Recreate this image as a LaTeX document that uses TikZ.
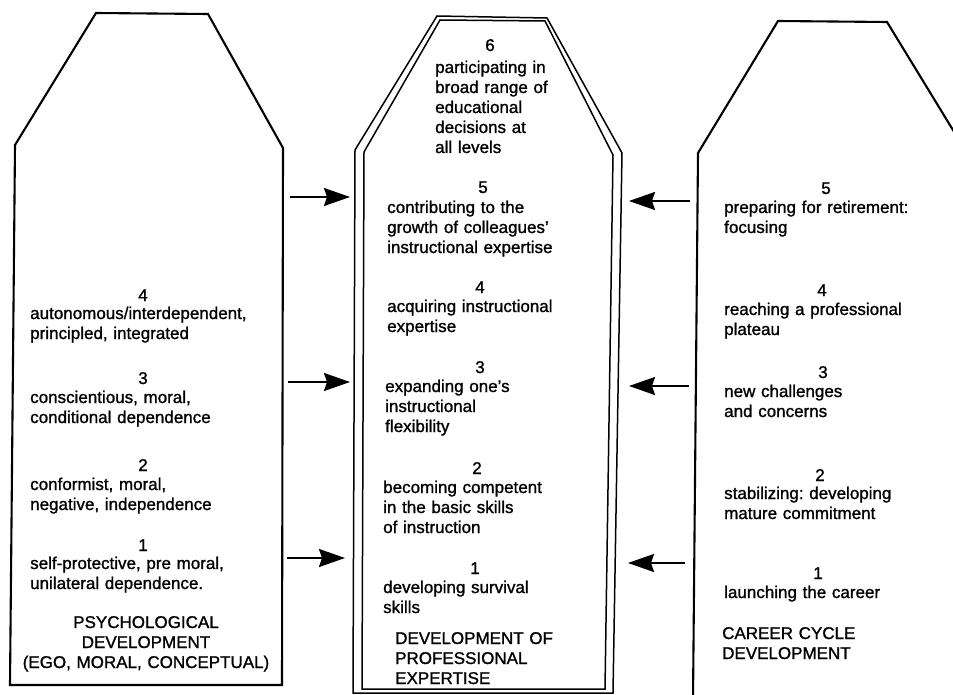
\documentclass[tikz,border=0pt]{standalone}
\usepackage{fontspec}
\setmainfont{Liberation Sans}[FakeBold=1.2]
\usetikzlibrary{arrows.meta}
\begin{document}
\frenchspacing
\begin{tikzpicture}[x=1pt,y=-1pt,
  outline/.style={line width=2.1pt, line join=miter},
  dbl/.style={line width=1.5pt, line join=miter},
  num/.style={anchor=base, inner sep=0pt, font=\fontsize{17}{20}\selectfont},
  txt/.style={anchor=base west, inner sep=0pt, align=left, text width=250pt, font=\fontsize{17}{20}\selectfont},
  ttl/.style={anchor=base, inner sep=0pt, align=center, text width=270pt, font=\fontsize{17}{20}\selectfont},
  link/.style={line width=2pt, -{Stealth[length=26pt,width=18pt,inset=3pt]}}
]
\useasboundingbox (0,0) rectangle (953,695);

% ---------- shapes ----------
\draw[outline] (10,685) -- (15,145) -- (96,13) -- (208,14) -- (283,148) -- (282,685) -- cycle;
\draw[dbl] (353,693) -- (355,150) -- (437,16) -- (547,18) -- (622,153) -- (613,693) -- cycle;
\draw[dbl] (362,689) -- (364,152) -- (440,20) -- (545,21) -- (613,155) -- (605,689) -- cycle;
\begin{scope}
  \clip (0,0) rectangle (953,695);
  \draw[outline] (693,700) -- (698,153) -- (778,21) -- (887,22) -- (967,153) -- (967,700);
\end{scope}

% ---------- left column ----------
\node[num] (l4n) at (143,301) {4};
\node[txt] (l4t) at (30,319) {autonomous/interdependent,\\principled, integrated};
\node[num] (l3n) at (143,384) {3};
\node[txt] (l3t) at (30,403) {conscientious, moral,\\conditional dependence};
\node[num] (l2n) at (143,471) {2};
\node[txt] (l2t) at (30,490) {conformist, moral,\\negative, independence};
\node[num] (l1n) at (143,551) {1};
\node[txt] (l1t) at (30,569) {self-protective, pre moral,\\unilateral dependence.};
\node[ttl] (lttl) at (146,628) {PSYCHOLOGICAL\\DEVELOPMENT\\(EGO, MORAL, CONCEPTUAL)};

% ---------- middle column ----------
\node[num] (m6n) at (490,51) {6};
\node[txt] (m6t) at (435,73) {participating in\\broad range of\\educational\\decisions at\\all levels};
\node[num] (m5n) at (483,193) {5};
\node[txt] (m5t) at (387,213) {contributing to the\\growth of colleagues'\\instructional expertise};
\node[num] (m4n) at (480,293) {4};
\node[txt] (m4t) at (387,312) {acquiring instructional\\expertise};
\node[num] (m3n) at (480,373) {3};
\node[txt] (m3t) at (385,392) {expanding one's\\instructional\\flexibility};
\node[num] (m2n) at (477,474) {2};
\node[txt] (m2t) at (383,493) {becoming competent\\in the basic skills\\of instruction};
\node[num] (m1n) at (475,574) {1};
\node[txt] (m1t) at (383,593) {developing survival\\skills};
\node[txt] (mttl) at (395,644) {DEVELOPMENT OF\\PROFESSIONAL\\EXPERTISE};

% ---------- right column ----------
\node[num] (r5n) at (826,194) {5};
\node[txt] (r5t) at (724,213) {preparing for retirement:\\focusing};
\node[num] (r4n) at (822,296) {4};
\node[txt] (r4t) at (724,315) {reaching a professional\\plateau};
\node[num] (r3n) at (823,378) {3};
\node[txt] (r3t) at (724,397) {new challenges\\and concerns};
\node[num] (r2n) at (820,481) {2};
\node[txt] (r2t) at (724,499) {stabilizing: developing\\mature commitment};
\node[num] (r1n) at (818,579) {1};
\node[txt] (r1t) at (724,598) {launching the career};
\node[txt] (rttl) at (722,639) {CAREER CYCLE\\DEVELOPMENT};

% ---------- arrows ----------
\coordinate (la1) at (290,197); \coordinate (la1e) at (350,197);
\coordinate (la2) at (288,382); \coordinate (la2e) at (350,382);
\coordinate (la3) at (287,558); \coordinate (la3e) at (345,558);
\coordinate (ra1) at (690,201); \coordinate (ra1e) at (629,201);
\coordinate (ra2) at (689,386); \coordinate (ra2e) at (629,386);
\coordinate (ra3) at (685,563); \coordinate (ra3e) at (628,563);
\draw[link] (la1) -- (la1e);
\draw[link] (la2) -- (la2e);
\draw[link] (la3) -- (la3e);
\draw[link] (ra1) -- (ra1e);
\draw[link] (ra2) -- (ra2e);
\draw[link] (ra3) -- (ra3e);
\end{tikzpicture}
\end{document}
